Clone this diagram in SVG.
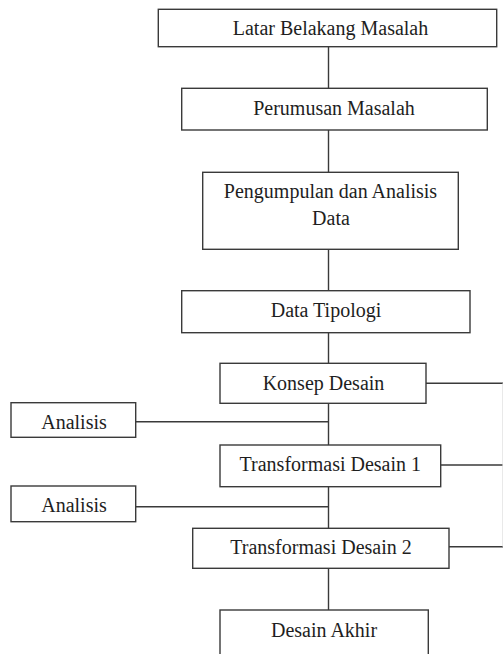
<svg xmlns="http://www.w3.org/2000/svg" width="503" height="654" viewBox="0 0 503 654">
<style>
.box{fill:#fff;stroke:#3a3a3a;stroke-width:1.4}
.ln{fill:none;stroke:#3a3a3a;stroke-width:1.4}
.t{font-family:"Liberation Serif","Times New Roman",serif;font-size:20px;fill:#1e1e1e;text-anchor:middle}
</style>
<rect width="503" height="654" fill="#fff"/>
<g id="connectors">
<line class="ln" x1="328.5" y1="47" x2="328.5" y2="88"/>
<line class="ln" x1="328.5" y1="130" x2="328.5" y2="172"/>
<line class="ln" x1="328.5" y1="249" x2="328.5" y2="291"/>
<line class="ln" x1="328.5" y1="333" x2="328.5" y2="363"/>
<line class="ln" x1="328.5" y1="403" x2="328.5" y2="445"/>
<line class="ln" x1="328.5" y1="487" x2="328.5" y2="528"/>
<line class="ln" x1="328.5" y1="568" x2="328.5" y2="610"/>
<line class="ln" x1="136" y1="421.7" x2="328.5" y2="421.7"/>
<line class="ln" x1="136" y1="506.7" x2="328.5" y2="506.7"/>
<line class="ln" x1="426" y1="383.3" x2="503" y2="383.3"/>
<line class="ln" x1="441" y1="465" x2="503" y2="465"/>
<line class="ln" x1="449" y1="546.7" x2="503" y2="546.7"/>
<line x1="502.7" y1="383.3" x2="502.7" y2="546.7" stroke="#dcdcdc" stroke-width="0.8"/>
</g>
<g id="n1"><rect class="box" x="158.3" y="9.3" width="338.4" height="37.4"/><text class="t" x="330.5" y="35">Latar Belakang Masalah</text></g>
<g id="n2"><rect class="box" x="181.7" y="88.3" width="305.6" height="41.7"/><text class="t" x="334" y="115">Perumusan Masalah</text></g>
<g id="n3"><rect class="box" x="202.7" y="172.3" width="255.6" height="77"/><text class="t" x="330.5" y="198">Pengumpulan dan Analisis</text><text class="t" x="331" y="225">Data</text></g>
<g id="n4"><rect class="box" x="181.7" y="290.7" width="288.3" height="42"/><text class="t" x="326" y="317">Data Tipologi</text></g>
<g id="n5"><rect class="box" x="220" y="363.3" width="206" height="40"/><text class="t" x="323.5" y="390">Konsep Desain</text></g>
<g id="n6"><rect class="box" x="11" y="402.7" width="124.7" height="34.6"/><text class="t" x="74" y="429">Analisis</text></g>
<g id="n7"><rect class="box" x="220" y="445" width="220.7" height="41.7"/><text class="t" x="330.3" y="471">Transformasi Desain 1</text></g>
<g id="n8"><rect class="box" x="11" y="486" width="124.7" height="35.7"/><text class="t" x="74" y="512.3">Analisis</text></g>
<g id="n9"><rect class="box" x="192.7" y="528.3" width="256.3" height="40"/><text class="t" x="321" y="554">Transformasi Desain 2</text></g>
<g id="n10"><rect class="box" x="220" y="610" width="208.3" height="60"/><text class="t" x="324" y="636.7">Desain Akhir</text></g>
</svg>
